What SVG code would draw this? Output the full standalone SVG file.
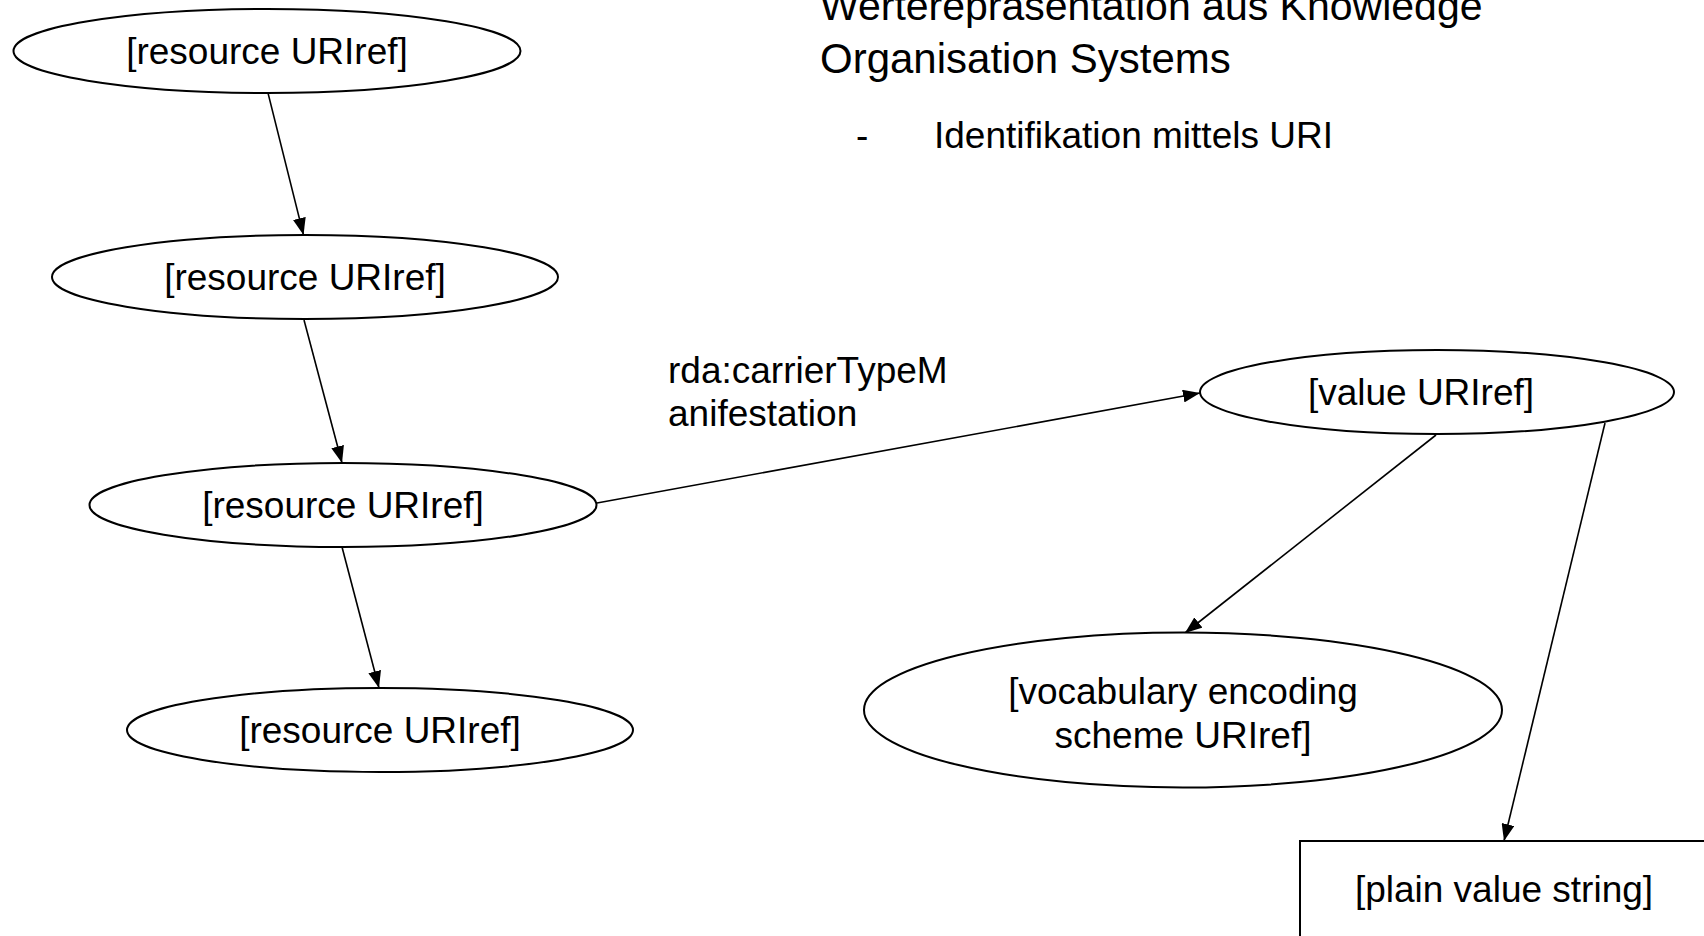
<svg xmlns="http://www.w3.org/2000/svg" width="1704" height="936" viewBox="0 0 1704 936">
<style>
  .node { fill: #fff; stroke: #000; stroke-width: 2; }
  .lbl { font-family: "Liberation Sans", Arial, sans-serif; font-size: 37px; fill: #000; text-anchor: middle; }
  .txt { font-family: "Liberation Sans", Arial, sans-serif; fill: #000; }
  .edge { stroke: #000; stroke-width: 1.6; fill: none; marker-end: url(#arrow); }
</style>
<defs>
  <marker id="arrow" markerUnits="userSpaceOnUse" markerWidth="18" markerHeight="13" refX="17" refY="6.5" orient="auto">
    <path d="M0,0 L17,6.5 L0,13 z" fill="#000"/>
  </marker>
</defs>
<rect x="0" y="0" width="1704" height="936" fill="#fff"/>

<g id="title" class="txt">
  <text x="820" y="20" font-size="41">Werterepräsentation aus Knowledge</text>
  <text x="820" y="73" font-size="42">Organisation Systems</text>
  <text x="856" y="148" font-size="37">-</text>
  <text x="934" y="148" font-size="37">Identifikation mittels URI</text>
</g>

<g id="connectors">
  <line class="edge" x1="268" y1="93" x2="303.5" y2="235"/>
  <line class="edge" x1="304" y1="320" x2="342" y2="463"/>
  <line class="edge" x1="342" y1="547" x2="379" y2="688"/>
  <line class="edge" x1="597" y1="503" x2="1200" y2="393"/>
  <line class="edge" x1="1436" y1="435" x2="1185" y2="633"/>
  <line class="edge" x1="1605" y1="423" x2="1504" y2="841"/>
  <g id="edge-label" class="txt" font-size="37">
    <text x="668" y="383">rda:carrierTypeM</text>
    <text x="668" y="426">anifestation</text>
  </g>
</g>

<g id="n1">
  <ellipse class="node" cx="267" cy="51" rx="253.5" ry="42"/>
  <text class="lbl" x="267" y="64">[resource URIref]</text>
</g>
<g id="n2">
  <ellipse class="node" cx="305" cy="277" rx="253" ry="42"/>
  <text class="lbl" x="305" y="290">[resource URIref]</text>
</g>
<g id="n3">
  <ellipse class="node" cx="343" cy="505" rx="253.5" ry="42"/>
  <text class="lbl" x="343" y="518">[resource URIref]</text>
</g>
<g id="n4">
  <ellipse class="node" cx="380" cy="730" rx="253" ry="42"/>
  <text class="lbl" x="380" y="743">[resource URIref]</text>
</g>
<g id="value">
  <ellipse class="node" cx="1437" cy="392" rx="237" ry="42"/>
  <text class="lbl" x="1421" y="405">[value URIref]</text>
</g>
<g id="vocab">
  <ellipse class="node" cx="1183" cy="710" rx="319" ry="77.5"/>
  <text class="lbl" x="1183" y="704">[vocabulary encoding</text>
  <text class="lbl" x="1183" y="748">scheme URIref]</text>
</g>
<g id="plain">
  <rect class="node" x="1300" y="841" width="430" height="130"/>
  <text class="lbl" x="1504" y="902">[plain value string]</text>
</g>
</svg>
